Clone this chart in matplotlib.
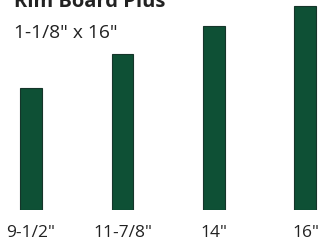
import matplotlib.pyplot as plt

# data
sizes = ["9-1/2\"", "11-7/8\"", "14\"", "16\""]
heights = [9.55, 12.25, 14.45, 16.0]   # bar heights as drawn in the picture

title = "Rim Board Plus"
subtitle = "1-1/8\" x 16\""

plt.rcParams["font.family"] = ["Open Sans", "DejaVu Sans"]

fig = plt.figure(figsize=(3.18, 2.41), dpi=100)
ax = fig.add_axes([0, 31 / 241, 1, 210 / 241])

x = list(range(len(heights)))
ax.bar(x, heights, width=0.24, color="#0e5035", edgecolor="#15352a", linewidth=0.8)

ax.set_xlim(-0.339, 3.137)
ax.set_ylim(0, 16.47)
ax.set_xticks(x)
ax.set_xticklabels(sizes, fontsize=12.5, color="#222222")
ax.tick_params(axis="x", length=0, pad=11)
ax.set_yticks([])
for s in ax.spines.values():
    s.set_visible(False)

fig.text(14 / 318, 1 - 7 / 241, title, fontsize=14.5, fontweight="bold",
         color="#222222", va="baseline", ha="left")
fig.text(14 / 318, 1 - 38 / 241, subtitle, fontsize=13.8,
         color="#222222", va="baseline", ha="left")

fig.savefig("out.png", dpi=100)
